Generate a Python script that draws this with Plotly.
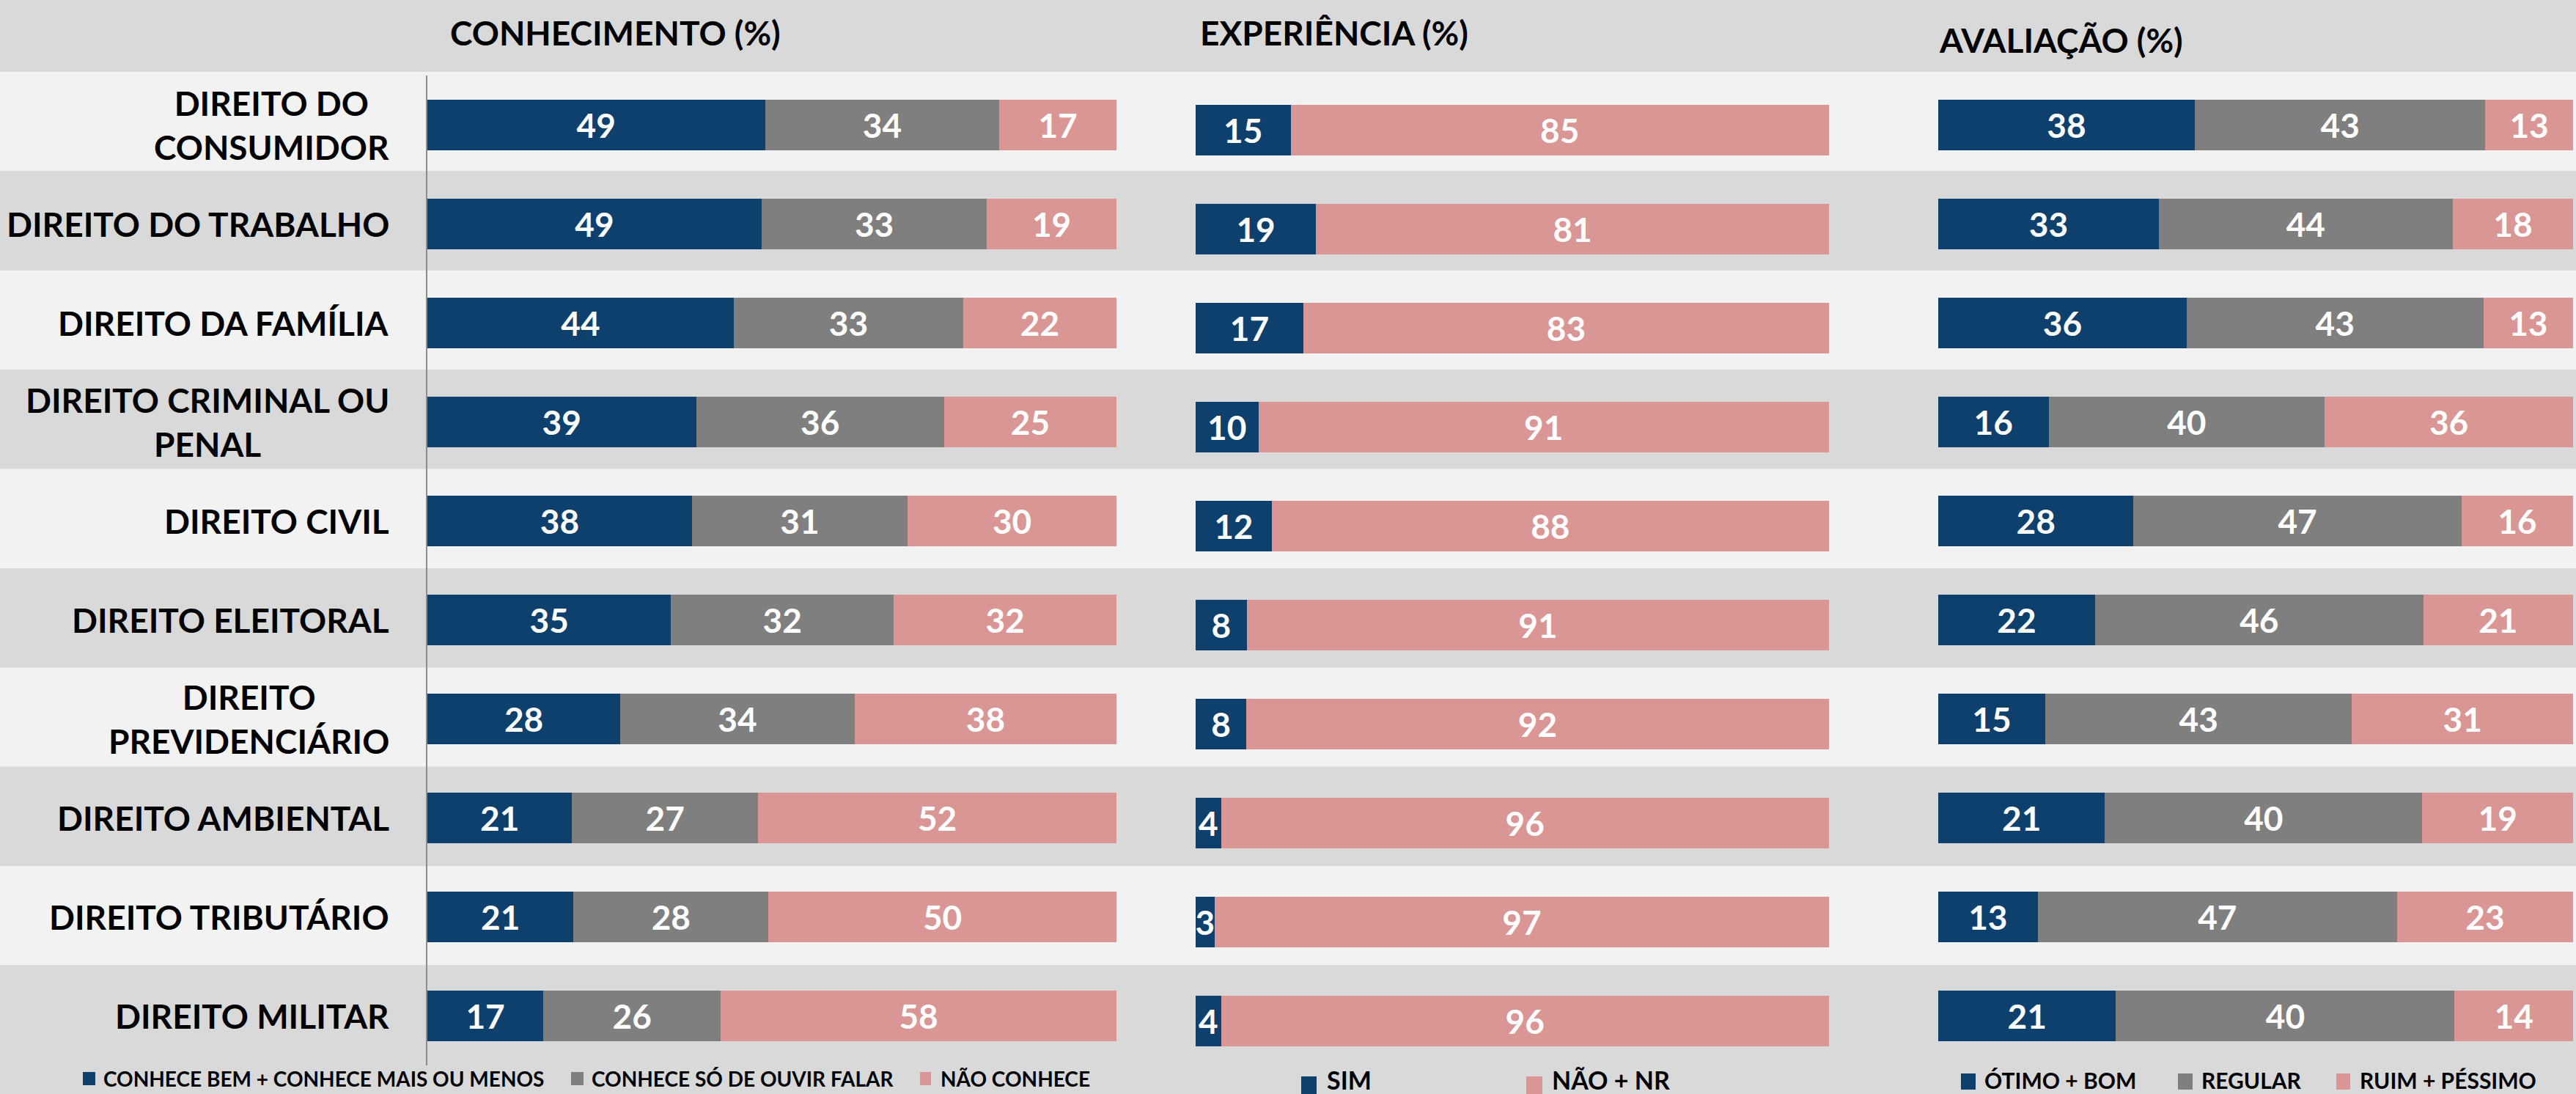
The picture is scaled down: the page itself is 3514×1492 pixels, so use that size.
import plotly.graph_objects as go

W, H = 3514, 1492

categories = [
    "DIREITO DO CONSUMIDOR", "DIREITO DO TRABALHO", "DIREITO DA FAMÍLIA",
    "DIREITO CRIMINAL OU PENAL", "DIREITO CIVIL", "DIREITO ELEITORAL",
    "DIREITO PREVIDENCIÁRIO", "DIREITO AMBIENTAL", "DIREITO TRIBUTÁRIO",
    "DIREITO MILITAR",
]
category_labels = [
    "DIREITO DO<br>CONSUMIDOR", "DIREITO DO TRABALHO", "DIREITO DA FAMÍLIA",
    "DIREITO CRIMINAL OU<br>PENAL", "DIREITO CIVIL", "DIREITO ELEITORAL",
    "DIREITO<br>PREVIDENCIÁRIO", "DIREITO AMBIENTAL", "DIREITO TRIBUTÁRIO",
    "DIREITO MILITAR",
]

# Conhecimento (%)
conhece_bem = [49, 49, 44, 39, 38, 35, 28, 21, 21, 17]
conhece_ouvir = [34, 33, 33, 36, 31, 32, 34, 27, 28, 26]
nao_conhece = [17, 19, 22, 25, 30, 32, 38, 52, 50, 58]

# Experiência (%)
exp_sim = [15, 19, 17, 10, 12, 8, 8, 4, 3, 4]
exp_nao_nr = [85, 81, 83, 91, 88, 91, 92, 96, 97, 96]

# Avaliação (%)
aval_otimo_bom = [38, 33, 36, 16, 28, 22, 15, 21, 13, 21]
aval_regular = [43, 44, 43, 40, 47, 46, 43, 40, 47, 40]
aval_ruim_pessimo = [13, 18, 13, 36, 16, 21, 31, 19, 23, 14]

titles = ["CONHECIMENTO (%)", "EXPERIÊNCIA (%)", "AVALIAÇÃO (%)"]
legend_conhecimento = ["CONHECE BEM + CONHECE MAIS OU MENOS", "CONHECE SÓ DE OUVIR FALAR", "NÃO CONHECE"]
legend_experiencia = ["SIM", "NÃO + NR"]
legend_avaliacao = ["ÓTIMO + BOM", "REGULAR", "RUIM + PÉSSIMO"]

BLUE = "#0E406E"
GRAY = "#7F7F7F"
PINK = "#DA9694"
LIGHT = "#F2F2F2"
DARK = "#D9D9D9"
FONT = "Lato"


def px(x):
    return x / W


def py(y):
    return 1 - y / H


fig = go.Figure()

panels = [
    ("x", "y", [(conhece_bem, BLUE), (conhece_ouvir, GRAY), (nao_conhece, PINK)], legend_conhecimento),
    ("x2", "y2", [(exp_sim, BLUE), (exp_nao_nr, PINK)], legend_experiencia),
    ("x3", "y3", [(aval_otimo_bom, BLUE), (aval_regular, GRAY), (aval_ruim_pessimo, PINK)], legend_avaliacao),
]

for xa, ya, series, names in panels:
    for (vals, color), name in zip(series, names):
        fig.add_trace(go.Bar(
            x=vals, y=categories, orientation="h", name=name,
            marker=dict(color=color, line=dict(width=0)),
            text=[str(v) for v in vals], textposition="inside",
            insidetextanchor="middle", textangle=0, constraintext="none",
            textfont=dict(family=FONT, size=46, color="white", weight="bold"),
            xaxis=xa, yaxis=ya, showlegend=False, hoverinfo="x+y",
        ))

# background bands: header + alternating rows
shapes = [dict(type="rect", xref="paper", yref="paper", x0=0, x1=1, y0=py(98), y1=1,
               fillcolor=DARK, line=dict(width=0), layer="below")]
row_h = 135.4
for i in range(10):
    y0 = 98 + row_h * i
    y1 = H if i == 9 else 98 + row_h * (i + 1)
    shapes.append(dict(type="rect", xref="paper", yref="paper", x0=0, x1=1,
                       y0=py(y1), y1=py(y0), fillcolor=LIGHT if i % 2 == 0 else DARK,
                       line=dict(width=0), layer="below"))

annotations = []
for cat, lab in zip(categories, category_labels):
    annotations.append(dict(
        x=px(533), xref="paper", y=cat, yref="y", xanchor="right", yanchor="middle",
        text=lab, align="center", showarrow=False,
        font=dict(family=FONT, size=46, color="black", weight="bold"),
    ))

title_pos = [(612, 45), (1635, 45), (2643, 54)]
for t, (tx, ty) in zip(titles, title_pos):
    annotations.append(dict(
        x=px(tx), xref="paper", y=py(ty), yref="paper", xanchor="left", yanchor="middle",
        text=t, showarrow=False,
        font=dict(family=FONT, size=46, color="black", weight="bold"),
    ))

# legend swatches and labels: (swatch x0, x1, y0, y1, text x, text centre y, size, label, colour)
legend_items = [
    (113, 130, 1462, 1480, 139, 1471, 28, legend_conhecimento[0], BLUE),
    (779, 796, 1462, 1480, 805, 1471, 28, legend_conhecimento[1], GRAY),
    (1255, 1270, 1462, 1480, 1281, 1471, 28, legend_conhecimento[2], PINK),
    (1775, 1796, 1468, 1492, 1808, 1472, 34, legend_experiencia[0], BLUE),
    (2082, 2104, 1468, 1492, 2115, 1472, 34, legend_experiencia[1], PINK),
    (2675, 2695, 1464, 1486, 2705, 1473, 30, legend_avaliacao[0], BLUE),
    (2971, 2991, 1464, 1486, 3001, 1473, 30, legend_avaliacao[1], GRAY),
    (3187, 3206, 1464, 1486, 3217, 1473, 30, legend_avaliacao[2], PINK),
]
for x0, x1, y0, y1, tx, ty, fs, label, color in legend_items:
    shapes.append(dict(type="rect", xref="paper", yref="paper", x0=px(x0), x1=px(x1),
                       y0=py(y1), y1=py(y0), fillcolor=color, line=dict(width=0)))
    annotations.append(dict(
        x=px(tx), xref="paper", y=py(ty), yref="paper",
        xanchor="left", yanchor="middle", text=label, showarrow=False,
        font=dict(family=FONT, size=fs, color="black", weight="bold"),
    ))

axis_x = dict(range=[0, 100], showgrid=False, zeroline=False, showticklabels=False,
              ticks="", fixedrange=True)
axis_y = dict(categoryorder="array", categoryarray=categories[::-1], range=[-0.5, 9.5],
              showgrid=False, zeroline=False, showticklabels=False, ticks="", fixedrange=True)

fig.update_layout(
    width=W, height=H, autosize=False,
    margin=dict(l=0, r=0, t=0, b=0, pad=0),
    paper_bgcolor=DARK, plot_bgcolor="rgba(0,0,0,0)",
    barmode="stack", barnorm="percent", bargap=0.49,
    showlegend=False,
    xaxis=dict(axis_x, domain=[px(583), px(1523)], anchor="y"),
    xaxis2=dict(axis_x, domain=[px(1631), px(2495)], anchor="y2"),
    xaxis3=dict(axis_x, domain=[px(2644), px(3510)], anchor="y3"),
    yaxis=dict(axis_y, domain=[py(1453), py(103)], anchor="x",
               showline=True, linecolor="#8C8C8C", linewidth=2),
    yaxis2=dict(axis_y, domain=[py(1460), py(110)], anchor="x2", showline=False),
    yaxis3=dict(axis_y, domain=[py(1453), py(103)], anchor="x3", showline=False),
    shapes=shapes, annotations=annotations,
)

fig.write_html("out.html")
